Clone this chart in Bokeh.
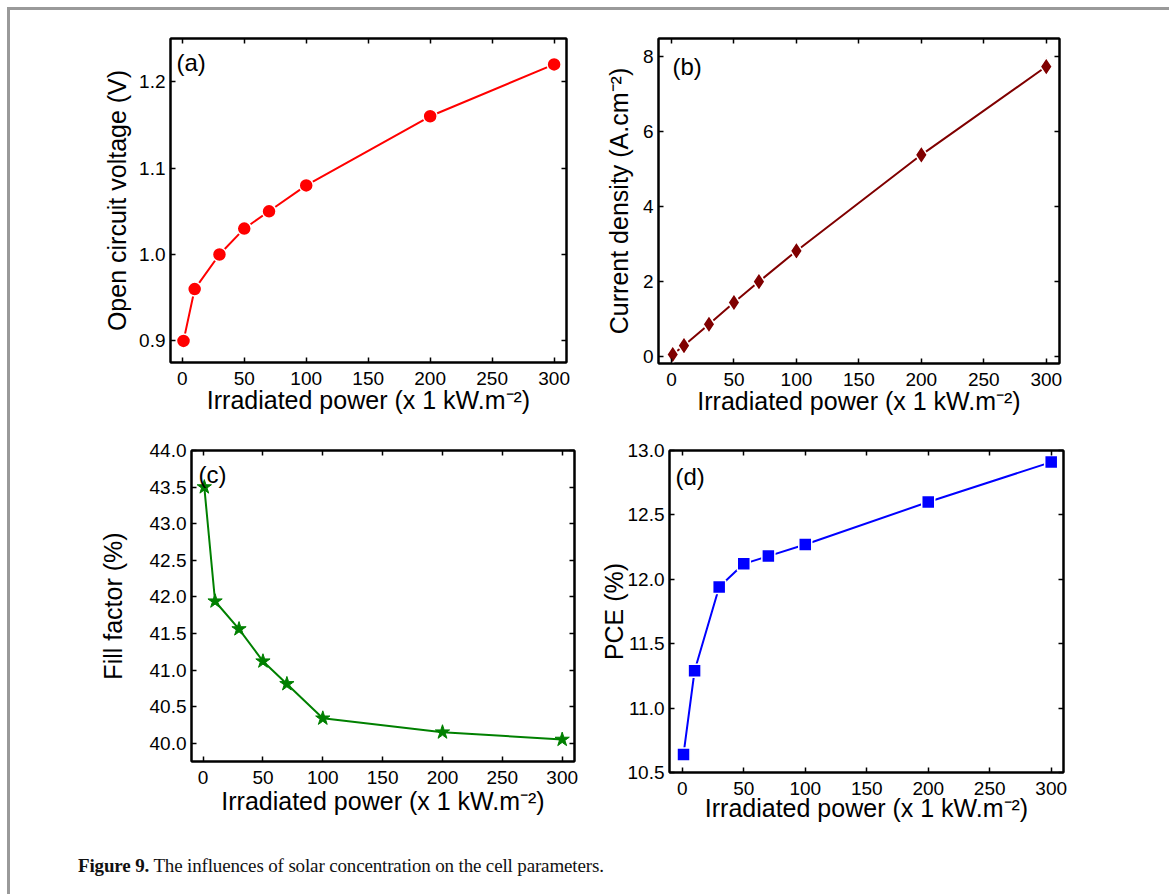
from bokeh.plotting import figure
from bokeh.models import FixedTicker, LinearAxis, Label, Range1d, Div, PrintfTickFormatter
from bokeh.layouts import column, row
from bokeh.embed import file_html
from bokeh.resources import INLINE

# ---- data ----
power = [1, 10, 30, 50, 70, 100, 200, 300]
voc = [0.90, 0.96, 1.00, 1.03, 1.05, 1.08, 1.16, 1.22]
jsc = [0.04, 0.28, 0.85, 1.43, 1.99, 2.81, 5.38, 7.74]
ff = [43.50, 41.94, 41.56, 41.12, 40.81, 40.34, 40.15, 40.05]
pce = [10.64, 11.29, 11.94, 12.12, 12.18, 12.27, 12.60, 12.91]

x_ticks = [0, 50, 100, 150, 200, 250, 300]
voc_ticks = [0.9, 1.0, 1.1, 1.2]
jsc_ticks = [0, 2, 4, 6, 8]
ff_ticks = [40.0, 40.5, 41.0, 41.5, 42.0, 42.5, 43.0, 43.5, 44.0]
pce_ticks = [10.5, 11.0, 11.5, 12.0, 12.5, 13.0]

xlabel = "Irradiated power (x 1 kW.m\u207b\u00b2)"
FONT = "Liberation Sans"


def make_panel(xr, yr, yticks, yfmt, ylabel, mb, fw, fh, ystand, xstand=0, tstand=9):
    left, right, top, bottom = mb
    p = figure(x_range=Range1d(*xr), y_range=Range1d(*yr),
               frame_width=fw, frame_height=fh,
               min_border_left=left, min_border_right=right,
               min_border_top=top, min_border_bottom=bottom,
               output_backend="svg", toolbar_location=None,
               x_axis_label=xlabel, y_axis_label=ylabel)
    p.grid.visible = False
    p.outline_line_color = "black"
    p.outline_line_width = 2
    p.background_fill_color = "white"
    p.border_fill_color = "white"
    # mirrored axes (ticks only)
    p.add_layout(LinearAxis(), "right")
    p.add_layout(LinearAxis(), "above")
    for ax in p.xaxis:
        ax.ticker = FixedTicker(ticks=x_ticks, num_minor_ticks=2)
    for ax in p.yaxis:
        ax.ticker = FixedTicker(ticks=yticks, num_minor_ticks=2)
        ax.formatter = PrintfTickFormatter(format=yfmt)
    for ax in list(p.xaxis) + list(p.yaxis):
        ax.axis_line_width = 2
        ax.axis_line_color = "black"
        ax.major_tick_in = 5
        ax.major_tick_out = 0
        ax.minor_tick_in = 3
        ax.minor_tick_out = 0
        ax.major_tick_line_width = 1.5
        ax.minor_tick_line_width = 1.5
        ax.major_label_text_font = FONT
        ax.major_label_text_font_size = "19px"
        ax.major_label_text_color = "black"
        ax.axis_label_text_font = FONT
        ax.axis_label_text_font_size = "25px"
        ax.axis_label_text_font_style = "normal"
        ax.axis_label_text_color = "black"
    p.below[0].major_label_standoff = tstand
    p.below[0].axis_label_standoff = xstand
    p.left[0].major_label_standoff = 5
    p.left[0].axis_label_standoff = ystand
    for ax in (p.right[0], p.above[0]):
        ax.major_label_text_color = None
        ax.major_label_text_font_size = "1px"
        ax.major_label_standoff = 0
        ax.axis_label_standoff = 0
    return p


def panel_label(p, txt, x, y):
    p.add_layout(Label(x=x, y=y, text=txt, text_font=FONT, text_font_size="24px",
                       text_baseline="top", text_align="left", text_color="black"))


def series(p, ys, color, marker, size, outline="white", outline_w=1.5):
    p.line(power, ys, line_color=color, line_width=2)
    p.scatter(power, ys, marker=marker, size=size, fill_color=color,
              line_color=outline, line_width=outline_w)


# (a)
pa = make_panel((-9.5, 310), (0.875, 1.25), voc_ticks, "%.1f",
                "Open circuit voltage (V)", (160, 33, 28, 59), 396, 324, 5, xstand=-2)
series(pa, voc, "#ff0000", "circle", 14)
panel_label(pa, "(a)", -4.7, 1.238)

# (b)
pb = make_panel((-10.4, 310.6), (-0.2, 8.49), jsc_ticks, "%d",
                "Current density (A.cm\u207b\u00b2)", (59, 103, 27, 59), 401, 325, 7, xstand=-2)
series(pb, jsc, "#800000", "diamond", 18)
panel_label(pb, "(b)", 0.8, 8.1)

# (c)
pc = make_panel((-9.7, 310.3), (39.75, 44.0), ff_ticks, "%.1f",
                "Fill factor (%)", (181, 21, 29, 76), 383, 311, 20, xstand=0, tstand=9)
series(pc, ff, "#008000", "star", 15, outline="#008000", outline_w=1)
panel_label(pc, "(c)", -3.9, 43.86)

# (d)
pd_ = make_panel((-10.4, 310), (10.5, 13.0), pce_ticks, "%.1f",
                 "PCE (%)", (74, 99, 29, 65), 394, 322, -3, xstand=-4)
series(pd_, pce, "#0000ff", "square", 13)
panel_label(pd_, "(d)", -5.5, 12.9)

cap = Div(text="<b>Figure 9.</b> The influences of solar concentration on the cell parameters.",
          width=1152, height=50,
          styles={"font-family": "Liberation Serif", "font-size": "19px",
                  "padding-left": "63px", "padding-top": "13px", "line-height": "22px",
                  "color": "#111", "letter-spacing": "-0.15px", "box-sizing": "border-box"})

layout = column(row(pa, pb, spacing=0), row(pc, pd_, spacing=0), cap, spacing=0,
                styles={"border-left": "3px solid #9a9a9a", "border-top": "3px solid #9a9a9a",
                        "border-right": "3px solid #9a9a9a", "margin-left": "7px",
                        "margin-top": "7px", "background": "white"})

open("out.html", "w").write(file_html(layout, INLINE))
